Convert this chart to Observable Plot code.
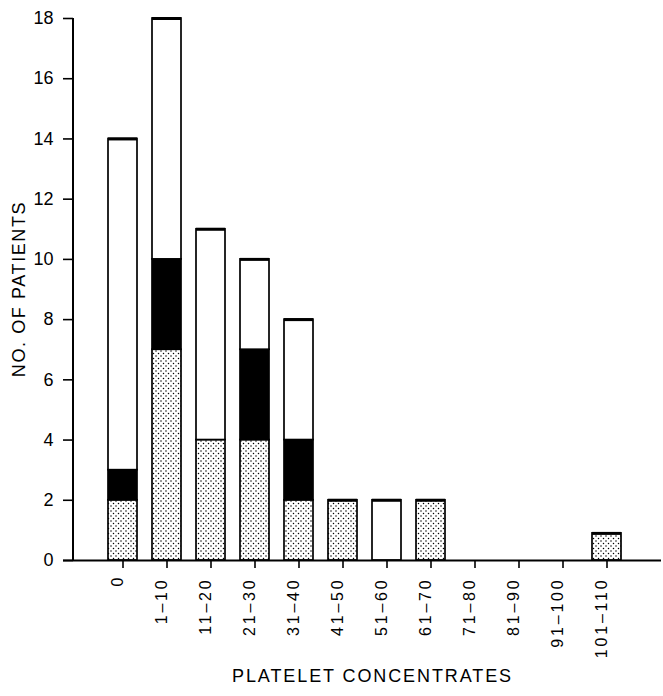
<!DOCTYPE html>
<html>
<head>
<meta charset="utf-8">
<script src="https://cdn.jsdelivr.net/npm/d3@7"></script>
<script src="https://cdn.jsdelivr.net/npm/@observablehq/plot@0.6"></script>
<style>
  html, body { margin: 0; padding: 0; background: #fff; }
  svg { font-family: "Liberation Sans", Arial, Helvetica, sans-serif; }
</style>
</head>
<body>
<div id="chart"></div>
<script>
const categories = ["0","1-10","11-20","21-30","31-40","41-50","51-60","61-70","71-80","81-90","91-100","101-110"];
const tickLabels = ["0","1–10","11–20","21–30","31–40","41–50","51–60","61–70","71–80","81–90","91–100","101–110"];
const dottedValues = [2, 7, 4, 4, 2, 2, 0, 2, 0, 0, 0, 0.9];
const solidValues  = [1, 3, 0, 3, 2, 0, 0, 0, 0, 0, 0, 0];
const openValues   = [11, 8, 7, 3, 4, 0, 2, 0, 0, 0, 0, 0];
const yTicks = [0, 2, 4, 6, 8, 10, 12, 14, 16, 18];
const xTitle = ["PLATELET CONCENTRATES"];
const yTitle = "NO. OF PATIENTS";

const segments = ["dotted", "solid", "open"];
const series = {dotted: dottedValues, solid: solidValues, open: openValues};
const rows = [];
categories.forEach((c, i) => {
  segments.forEach(s => {
    const v = series[s][i];
    if (v > 0) rows.push({cat: c, seg: s, value: v});
  });
});
const totals = categories.map((c, i) => ({cat: c, total: dottedValues[i] + solidValues[i] + openValues[i]}))
  .filter(d => d.total > 0);
const labelOf = Object.fromEntries(categories.map((c, i) => [c, tickLabels[i]]));

const chart = Plot.plot({
  width: 663,
  height: 696,
  marginLeft: 73,
  marginRight: 6,
  marginTop: 18,
  marginBottom: 136,
  style: {fontFamily: '"Liberation Sans", Arial, sans-serif', background: "white", color: "black", overflow: "visible"},
  x: {domain: categories, paddingInner: 0.33, paddingOuter: 0.72, label: null},
  y: {domain: [0, 18], ticks: yTicks, label: null},
  color: {type: "ordinal", domain: segments, range: ["url(#dots)", "black", "white"]},
  marks: [
    Plot.barY(rows, Plot.stackY({x: "cat", y: "value", fill: "seg", stroke: "black", strokeWidth: 1.7})),
    Plot.tickY(totals, {x: "cat", y: "total", stroke: "black", strokeWidth: 3}),
    Plot.axisY({ticks: yTicks, tickSize: 10, tickFormat: () => "", label: null, strokeWidth: 1.6}),
    Plot.axisX({tickSize: 8, tickFormat: () => "", label: null, strokeWidth: 1.6}),
    Plot.text(yTicks, {y: d => d, text: d => String(d), frameAnchor: "left", dx: -20, textAnchor: "end", fontSize: 18, fill: "black"}),
    Plot.text(categories, {x: d => d, text: d => labelOf[d], frameAnchor: "bottom", dy: 17, rotate: -90, textAnchor: "end", fontSize: 16, fill: "black"}),
    Plot.ruleY([0], {stroke: "black", strokeWidth: 2, insetLeft: -10, insetRight: -4}),
    Plot.text(xTitle, {frameAnchor: "bottom", dy: 121, dx: 7, fontSize: 18, fill: "black", text: d => d})
  ]
});

const svg = d3.select(chart);
svg.selectAll("text").each(function() {
  const t = this.textContent;
  if (tickLabels.includes(t) && t !== "0") this.style.letterSpacing = "2.8px";
  if (t === xTitle[0]) this.style.letterSpacing = "1.9px";
});
// y axis line
svg.append("line")
  .attr("x1", 73).attr("x2", 73).attr("y1", 18).attr("y2", 560)
  .attr("stroke", "black").attr("stroke-width", 2);
// y axis title
svg.append("text")
  .attr("transform", "translate(25,289) rotate(-90)")
  .attr("text-anchor", "middle")
  .attr("font-size", 18)
  .attr("letter-spacing", "1.6px")
  .text(yTitle);

const defs = svg.insert("defs", ":first-child");
const pat = defs.append("pattern")
  .attr("id", "dots").attr("patternUnits", "userSpaceOnUse")
  .attr("width", 5).attr("height", 5);
pat.append("rect").attr("width", 5).attr("height", 5).attr("fill", "white");
pat.append("circle").attr("cx", 1).attr("cy", 1).attr("r", 0.75).attr("fill", "black");
pat.append("circle").attr("cx", 3.5).attr("cy", 3.5).attr("r", 0.75).attr("fill", "black");

document.getElementById("chart").appendChild(chart);
</script>
</body>
</html>
